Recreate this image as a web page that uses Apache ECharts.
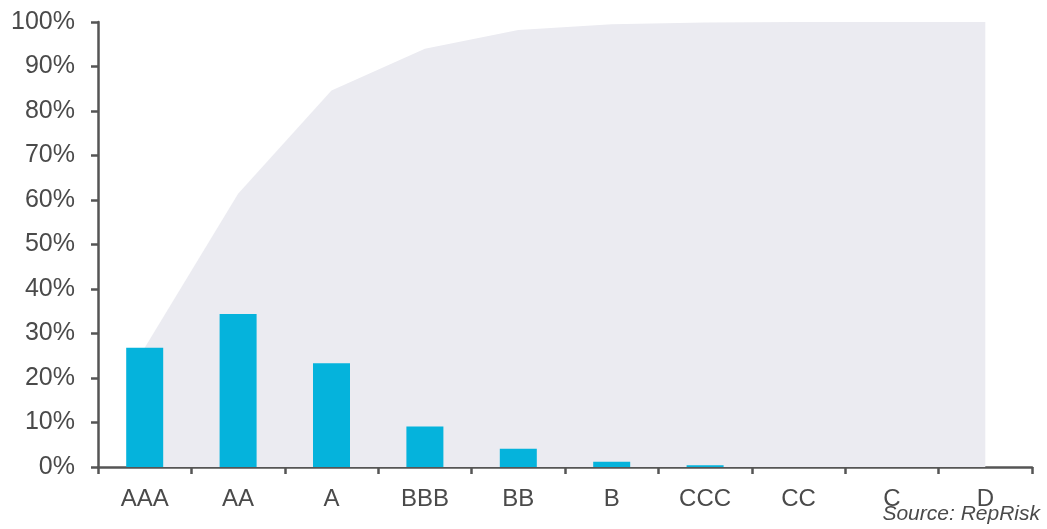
<!DOCTYPE html>
<html>
<head>
<meta charset="utf-8">
<script src="https://cdn.jsdelivr.net/npm/echarts@6/dist/echarts.min.js"></script>
<style>
html,body{margin:0;padding:0;background:#fff;}
#chart{width:1047px;height:529px;}
</style>
</head>
<body>
<div id="chart"></div>
<script>
const categories = ['AAA','AA','A','BBB','BB','B','CCC','CC','C','D'];
const shareValues = [26.8, 34.4, 23.3, 9.1, 4.1, 1.2, 0.4, 0, 0, 0];
const cumulativeValues = [26.8, 61.4, 84.6, 94.0, 98.2, 99.5, 99.9, 100, 100, 100];
const yTicks = [0, 10, 20, 30, 40, 50, 60, 70, 80, 90, 100];
const sourceText = 'Source: RepRisk';

const chart = echarts.init(document.getElementById('chart'), null, {renderer:'canvas'});
const font = '"Liberation Sans", Arial, sans-serif';
chart.setOption({
  animation: false,
  backgroundColor: '#ffffff',
  grid: {left: 98, right: 15, top: 22, bottom: 62, containLabel: false},
  xAxis: {
    type: 'category',
    data: categories,
    boundaryGap: true,
    axisLine: {lineStyle: {color: '#555555', width: 2.5}},
    axisTick: {show: true, length: 7, lineStyle: {color: '#555555', width: 2.5}},
    axisLabel: {color: '#4a4a4a', fontSize: 24, fontFamily: font, margin: 20},
    splitLine: {show: false}
  },
  yAxis: {
    type: 'value',
    min: yTicks[0],
    max: yTicks[yTicks.length - 1],
    interval: 10,
    axisLine: {show: true, lineStyle: {color: '#555555', width: 2.5}},
    axisTick: {show: true, length: 7, lineStyle: {color: '#555555', width: 2.5}},
    axisLabel: {color: '#4a4a4a', fontSize: 25, fontFamily: font, margin: 23, formatter: v => v + '%'},
    splitLine: {show: false}
  },
  series: [
    {
      type: 'line',
      data: cumulativeValues,
      symbol: 'none',
      lineStyle: {width: 0},
      areaStyle: {color: '#ebebf1', opacity: 1},
      z: 1
    },
    {
      type: 'bar',
      data: shareValues,
      barWidth: 37,
      itemStyle: {color: '#05b3dc'},
      z: 2
    }
  ],
  graphic: [{
    type: 'text',
    right: 7,
    top: 504,
    style: {text: sourceText, fill: '#4a4a4a', font: 'italic 21px "Liberation Sans", Arial, sans-serif'}
  }]
});
</script>
</body>
</html>
